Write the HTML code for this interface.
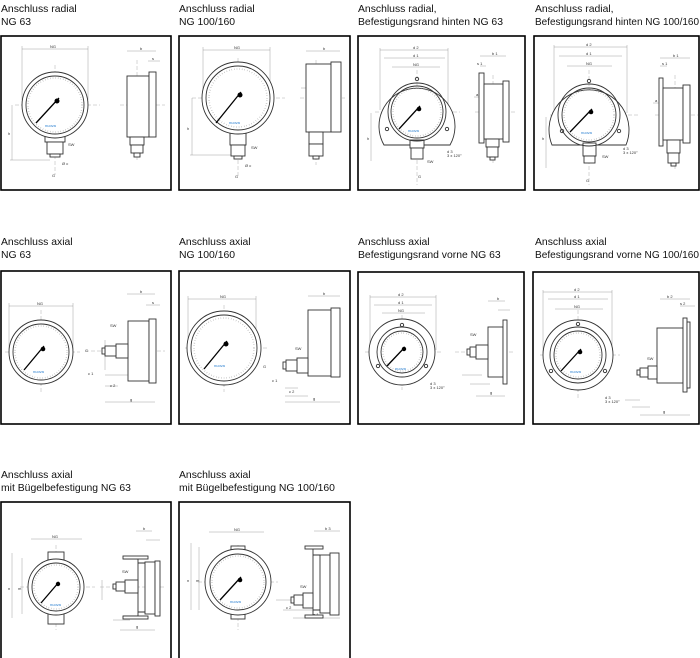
<!DOCTYPE html>
<html><head><meta charset="utf-8"><style>
html,body{margin:0;padding:0;background:#fff;}
svg{display:block;}
.t{font-family:"Liberation Sans",sans-serif;font-size:10.4px;fill:#111;}
.s{font-family:"Liberation Sans",sans-serif;font-size:4px;fill:#333;}
.b{font-family:"Liberation Sans",sans-serif;font-size:4px;fill:#2a7fd0;}
.box{fill:none;stroke:#000;stroke-width:1.6;}
.l{fill:none;stroke:#333;stroke-width:0.9;}
.h{fill:#fff;stroke:#333;stroke-width:0.9;}
.d{fill:none;stroke:#888;stroke-width:0.4;}
.c{fill:none;stroke:#999;stroke-width:0.4;stroke-dasharray:4 2;}
.n{stroke:#000;stroke-width:1.3;}
.tk{fill:none;stroke:#999;stroke-width:1.5;stroke-dasharray:0.4 2.2;}
</style></head><body>
<svg width="700" height="658" viewBox="0 0 700 658" xmlns="http://www.w3.org/2000/svg">
<!-- titles -->
<text class="t" x="1" y="12">Anschluss radial</text><text class="t" x="1" y="25">NG 63</text>
<text class="t" x="179" y="12">Anschluss radial</text><text class="t" x="179" y="25">NG 100/160</text>
<text class="t" x="358" y="12">Anschluss radial,</text><text class="t" x="358" y="25">Befestigungsrand hinten NG 63</text>
<text class="t" x="535" y="12">Anschluss radial,</text><text class="t" x="535" y="25" textLength="164" lengthAdjust="spacingAndGlyphs">Befestigungsrand hinten NG 100/160</text>
<text class="t" x="1" y="245">Anschluss axial</text><text class="t" x="1" y="258">NG 63</text>
<text class="t" x="179" y="245">Anschluss axial</text><text class="t" x="179" y="258">NG 100/160</text>
<text class="t" x="358" y="245">Anschluss axial</text><text class="t" x="358" y="258">Befestigungsrand vorne NG 63</text>
<text class="t" x="535" y="245">Anschluss axial</text><text class="t" x="535" y="258" textLength="164" lengthAdjust="spacingAndGlyphs">Befestigungsrand vorne NG 100/160</text>
<text class="t" x="1" y="478">Anschluss axial</text><text class="t" x="1" y="491">mit Bügelbefestigung NG 63</text>
<text class="t" x="179" y="478">Anschluss axial</text><text class="t" x="179" y="491">mit Bügelbefestigung NG 100/160</text>
<!-- boxes -->
<rect class="box" x="1" y="36" width="170" height="154"/>
<rect class="box" x="179" y="36" width="171" height="154"/>
<rect class="box" x="358" y="36" width="167" height="154"/>
<rect class="box" x="534" y="36" width="165" height="154"/>
<rect class="box" x="1" y="271" width="170" height="153"/>
<rect class="box" x="179" y="271" width="171" height="153"/>
<rect class="box" x="358" y="272" width="166" height="152"/>
<rect class="box" x="533" y="272" width="166" height="152"/>
<rect class="box" x="1" y="502" width="170" height="160"/>
<rect class="box" x="179" y="502" width="171" height="160"/>

<!-- P1 -->
<g>
<line class="c" x1="15" y1="105" x2="100" y2="105"/><line class="c" x1="55" y1="65" x2="55" y2="175"/>
<path class="d" d="M22 49H88M22 46V100M88 46V100M12 105V160M10 160H50"/>
<text class="s" x="50" y="48">NG</text><text class="s" x="8" y="135">h</text><text class="s" x="68" y="146">SW</text><text class="s" x="62" y="165">Ø c</text><text class="s" x="52" y="177">G</text>
<rect class="h" x="45" y="134" width="20" height="8"/><rect class="h" x="47" y="142" width="16" height="12"/><rect class="h" x="50" y="154" width="10" height="3"/>
<circle class="h" cx="55" cy="105" r="33"/><circle class="l" cx="55" cy="105" r="29"/><circle class="tk" cx="55" cy="105" r="27"/>
<line class="n" x1="59" y1="98" x2="36" y2="123"/><circle cx="57" cy="101" r="2.5"/>
<text class="b" x="45" y="127">nuova</text>
<line class="c" x1="120" y1="105" x2="165" y2="105"/><line class="c" x1="137" y1="60" x2="137" y2="160"/>
<path class="d" d="M127 51H156M148 61H160M127 87H137"/><text class="s" x="140" y="50">b</text><text class="s" x="152" y="60">s</text><text class="s" x="130" y="86">a</text>
<rect class="h" x="127" y="76" width="22" height="61"/><rect class="h" x="149" y="72" width="7" height="65"/>
<rect class="h" x="130" y="137" width="14" height="8"/><rect class="h" x="131" y="145" width="12" height="8"/><rect class="h" x="134" y="153" width="6" height="4"/>
</g>
<!-- P2 -->
<g>
<line class="c" x1="192" y1="98" x2="285" y2="98"/><line class="c" x1="238" y1="58" x2="238" y2="178"/>
<path class="d" d="M203 50H270M203 47V95M270 47V95M192 98V155M190 155H232"/>
<text class="s" x="234" y="49">NG</text><text class="s" x="187" y="130">h</text><text class="s" x="251" y="149">SW</text><text class="s" x="245" y="167">Ø c</text><text class="s" x="235" y="178">G</text>
<rect class="h" x="230" y="130" width="16" height="15"/><rect class="h" x="231" y="145" width="14" height="11"/><rect class="h" x="234" y="156" width="8" height="3"/>
<circle class="h" cx="238" cy="98" r="36"/><circle class="l" cx="238" cy="98" r="32"/><circle class="tk" cx="238" cy="98" r="29"/>
<line class="n" x1="241" y1="92" x2="216" y2="123"/><circle cx="240" cy="95" r="2.5"/>
<text class="b" x="229" y="124">nuova</text>
<line class="c" x1="300" y1="98" x2="345" y2="98"/><line class="c" x1="316" y1="60" x2="316" y2="165"/>
<path class="d" d="M306 51H340M301 88H316"/><text class="s" x="323" y="50">b</text><text class="s" x="309" y="87">a</text>
<rect class="h" x="306" y="64" width="25" height="68"/><rect class="h" x="331" y="62" width="10" height="70"/>
<rect class="h" x="309" y="132" width="14" height="12"/><rect class="h" x="309" y="144" width="14" height="12"/><rect class="h" x="313" y="156" width="6" height="3"/>
</g>
<!-- P3 -->
<g>
<line class="c" x1="375" y1="112" x2="460" y2="112"/><line class="c" x1="417" y1="70" x2="417" y2="185"/>
<path class="d" d="M380 50H448M384 58H445M392 67H440M380 48V110M448 48V110M371 113V161"/>
<text class="s" x="413" y="49">d 2</text><text class="s" x="413" y="57">d 1</text><text class="s" x="413" y="66">NG</text><text class="s" x="367" y="140">h</text><text class="s" x="427" y="163">SW</text><text class="s" x="447" y="153">d 3</text><text class="s" x="447" y="157">3 x 120°</text><text class="s" x="418" y="178">G</text>
<path class="h" d="M384 145A38 38 0 1 1 450 145Z"/>
<rect class="h" x="410" y="140" width="14" height="8"/><rect class="h" x="411" y="148" width="12" height="11"/>
<circle class="l" cx="417" cy="112" r="29"/><circle class="l" cx="417" cy="112" r="26"/><circle class="tk" cx="417" cy="112" r="24"/>
<circle class="l" cx="417" cy="79" r="1.7"/><circle class="l" cx="387" cy="129" r="1.7"/><circle class="l" cx="447" cy="129" r="1.7"/>
<line class="n" x1="420" y1="106" x2="399" y2="129"/><circle cx="419" cy="109" r="2.3"/>
<text class="b" x="408" y="132">nuova</text>
<path class="d" d="M480 56H506M480 66H486M474 97H485"/><text class="s" x="492" y="55">b 1</text><text class="s" x="477" y="65">s 1</text><text class="s" x="476" y="96">a 1</text>
<line class="c" x1="475" y1="112" x2="515" y2="112"/><line class="c" x1="493" y1="75" x2="493" y2="165"/>
<rect class="h" x="479" y="73" width="5" height="70"/><rect class="h" x="484" y="84" width="19" height="55"/><rect class="h" x="503" y="81" width="6" height="61"/>
<rect class="h" x="486" y="139" width="13" height="8"/><rect class="h" x="487" y="147" width="11" height="10"/><rect class="h" x="490" y="157" width="5" height="3"/>
</g>
<!-- P4 -->
<g>
<line class="c" x1="550" y1="115" x2="640" y2="115"/><line class="c" x1="589" y1="70" x2="589" y2="185"/>
<path class="d" d="M554 47H627M559 56H622M567 66H612M554 45V113M627 45V113M546 117V168"/>
<text class="s" x="586" y="46">d 2</text><text class="s" x="586" y="55">d 1</text><text class="s" x="586" y="65">NG</text><text class="s" x="542" y="140">h</text><text class="s" x="602" y="158">SW</text><text class="s" x="623" y="150">d 3</text><text class="s" x="623" y="154">3 x 120°</text><text class="s" x="586" y="182">G</text>
<path class="h" d="M552 145A40 40 0 1 1 626 145Z"/>
<rect class="h" x="583" y="143" width="13" height="13"/><rect class="h" x="584" y="156" width="11" height="7"/>
<circle class="l" cx="589" cy="115" r="31"/><circle class="l" cx="589" cy="115" r="27"/><circle class="tk" cx="589" cy="115" r="25"/>
<circle class="l" cx="589" cy="81" r="1.7"/><circle class="l" cx="562" cy="131" r="1.7"/><circle class="l" cx="619" cy="131" r="1.7"/>
<line class="n" x1="592" y1="109" x2="570" y2="132"/><circle cx="591" cy="112" r="2.3"/>
<text class="b" x="581" y="134">nuova</text>
<path class="d" d="M660 58H690M660 66H667M653 103H663"/><text class="s" x="673" y="57">b 1</text><text class="s" x="662" y="65">s 1</text><text class="s" x="655" y="102">a 1</text>
<line class="c" x1="655" y1="115" x2="698" y2="115"/><line class="c" x1="675" y1="75" x2="675" y2="170"/>
<rect class="h" x="659" y="78" width="4" height="68"/><rect class="h" x="663" y="88" width="20" height="52"/><rect class="h" x="683" y="85" width="7" height="58"/>
<rect class="h" x="667" y="140" width="13" height="13"/><rect class="h" x="668" y="153" width="11" height="10"/><rect class="h" x="671" y="163" width="5" height="3"/>
</g>
<!-- P5 -->
<g>
<line class="c" x1="5" y1="352" x2="80" y2="352"/><line class="c" x1="41" y1="310" x2="41" y2="392"/>
<path class="d" d="M9 306H73M9 303V350M73 303V350M105 340V370M105 375H128M105 386H118M105 402H155M127 294H155M146 305H160"/>
<text class="s" x="37" y="305">NG</text><text class="s" x="110" y="327">SW</text><text class="s" x="88" y="375">c 1</text><text class="s" x="110" y="387">c 2</text><text class="s" x="130" y="401">g</text><text class="s" x="140" y="293">b</text><text class="s" x="152" y="304">s</text><text class="s" x="85" y="352">G</text>
<circle class="h" cx="41" cy="352" r="32"/><circle class="l" cx="41" cy="352" r="28"/><circle class="tk" cx="41" cy="352" r="26"/>
<line class="n" x1="44" y1="346" x2="24" y2="370"/><circle cx="43" cy="349" r="2.3"/>
<text class="b" x="33" y="373">nuova</text>
<line class="c" x1="85" y1="351" x2="165" y2="351"/>
<rect class="h" x="128" y="321" width="21" height="60"/><rect class="h" x="149" y="319" width="7" height="64"/>
<rect class="h" x="116" y="344" width="12" height="14"/><rect class="h" x="105" y="346" width="11" height="10"/><rect class="h" x="102" y="348" width="3" height="6"/>
</g>
<!-- P6 -->
<g>
<line class="c" x1="185" y1="348" x2="268" y2="348"/><line class="c" x1="224" y1="305" x2="224" y2="392"/>
<path class="d" d="M188 299H256M188 296V345M256 296V345M285 388H298M285 396H308M285 402H340M308 296H340M313 345V365"/>
<text class="s" x="220" y="298">NG</text><text class="s" x="295" y="350">SW</text><text class="s" x="272" y="382">c 1</text><text class="s" x="289" y="393">c 2</text><text class="s" x="313" y="400">g</text><text class="s" x="323" y="295">b</text><text class="s" x="263" y="368">G</text>
<circle class="h" cx="224" cy="348" r="37"/><circle class="l" cx="224" cy="348" r="33"/><circle class="tk" cx="224" cy="348" r="30"/>
<line class="n" x1="227" y1="341" x2="204" y2="369"/><circle cx="226" cy="344" r="2.5"/>
<text class="b" x="214" y="367">nuova</text>
<rect class="h" x="308" y="310" width="23" height="66"/><rect class="h" x="331" y="308" width="9" height="69"/>
<rect class="h" x="297" y="358" width="11" height="15"/><rect class="h" x="286" y="360" width="11" height="11"/><rect class="h" x="283" y="362" width="3" height="7"/>
</g>
<!-- P7 -->
<g>
<line class="c" x1="365" y1="352" x2="442" y2="352"/><line class="c" x1="402" y1="315" x2="402" y2="390"/>
<path class="d" d="M370 297H436M374 305H432M382 313H425M370 295V350M436 295V350M462 375H482M470 384H490M476 396H505M488 301H505M498 310H510"/>
<text class="s" x="398" y="296">d 2</text><text class="s" x="398" y="304">d 1</text><text class="s" x="398" y="312">NG</text><text class="s" x="470" y="336">SW</text><text class="s" x="430" y="385">d 3</text><text class="s" x="430" y="389">3 x 120°</text><text class="s" x="490" y="394">g</text><text class="s" x="497" y="300">b</text>
<circle class="h" cx="402" cy="352" r="33"/><circle class="l" cx="402" cy="352" r="25"/><circle class="l" cx="402" cy="352" r="21"/><circle class="tk" cx="402" cy="352" r="19"/>
<circle class="l" cx="402" cy="325" r="1.7"/><circle class="l" cx="378" cy="366" r="1.7"/><circle class="l" cx="426" cy="366" r="1.7"/>
<line class="n" x1="405" y1="347" x2="387" y2="366"/><circle cx="404" cy="349" r="2.2"/>
<text class="b" x="395" y="370">nuova</text>
<line class="c" x1="455" y1="352" x2="515" y2="352"/>
<rect class="h" x="488" y="327" width="15" height="50"/><rect class="h" x="503" y="320" width="4" height="64"/>
<rect class="h" x="476" y="345" width="12" height="14"/><rect class="h" x="470" y="347" width="6" height="10"/><rect class="h" x="467" y="349" width="3" height="6"/>
</g>
<!-- P8 -->
<g>
<line class="c" x1="540" y1="355" x2="620" y2="355"/><line class="c" x1="578" y1="310" x2="578" y2="400"/>
<path class="d" d="M543 292H612M548 299H608M555 309H603M543 290V353M612 290V353M625 400H640M632 407H650M640 415H690M660 299H690M680 306H695"/>
<text class="s" x="574" y="291">d 2</text><text class="s" x="574" y="298">d 1</text><text class="s" x="574" y="308">NG</text><text class="s" x="647" y="360">SW</text><text class="s" x="605" y="399">d 3</text><text class="s" x="605" y="403">3 x 120°</text><text class="s" x="663" y="413">g</text><text class="s" x="667" y="298">b 2</text><text class="s" x="680" y="305">s 2</text>
<circle class="h" cx="578" cy="355" r="35"/><circle class="l" cx="578" cy="355" r="28"/><circle class="l" cx="578" cy="355" r="24"/><circle class="tk" cx="578" cy="355" r="22"/>
<circle class="l" cx="578" cy="324" r="1.7"/><circle class="l" cx="551" cy="371" r="1.7"/><circle class="l" cx="605" cy="371" r="1.7"/>
<line class="n" x1="581" y1="349" x2="561" y2="371"/><circle cx="580" cy="352" r="2.3"/>
<text class="b" x="570" y="373">nuova</text>
<rect class="h" x="657" y="328" width="26" height="55"/><rect class="h" x="683" y="318" width="4" height="74"/><rect class="h" x="687" y="322" width="3" height="66"/>
<rect class="h" x="648" y="366" width="9" height="13"/><rect class="h" x="640" y="368" width="8" height="9"/><rect class="h" x="637" y="370" width="3" height="5"/>
</g>
<!-- P9 -->
<g>
<line class="c" x1="20" y1="587" x2="95" y2="587"/><line class="c" x1="56" y1="545" x2="56" y2="630"/>
<path class="d" d="M31 539H82M12 553V618M22 558V614M136 531H152M146 540H160M113 620H130M120 630H155M102 580V600"/>
<text class="s" x="52" y="538">NG</text><text class="s" x="8" y="590">n</text><text class="s" x="18" y="590">m</text><text class="s" x="122" y="573">SW</text><text class="s" x="143" y="530">b</text><text class="s" x="136" y="628">g</text>
<rect class="h" x="48" y="552" width="16" height="11"/><rect class="h" x="48" y="613" width="16" height="11"/>
<circle class="h" cx="56" cy="587" r="28"/><circle class="l" cx="56" cy="587" r="24"/><circle class="tk" cx="56" cy="587" r="22"/>
<line class="n" x1="59" y1="582" x2="41" y2="603"/><circle cx="58" cy="584" r="2.2"/>
<text class="b" x="50" y="606">nuova</text>
<line class="c" x1="100" y1="587" x2="165" y2="587"/>
<path class="l" d="M123 559H138V616H123M138 563H145M138 612H145"/>
<rect class="h" x="145" y="562" width="10" height="52"/><rect class="h" x="155" y="561" width="5" height="55"/>
<rect class="h" x="123" y="556" width="25" height="3"/><rect class="h" x="123" y="616" width="25" height="3"/>
<rect class="h" x="125" y="580" width="13" height="13"/><rect class="h" x="116" y="582" width="9" height="9"/><rect class="h" x="113" y="584" width="3" height="5"/>
</g>
<!-- P10 -->
<g>
<line class="c" x1="198" y1="582" x2="278" y2="582"/><line class="c" x1="238" y1="545" x2="238" y2="630"/>
<path class="d" d="M209 532H264M191 543V610M199 547V610M314 531H340M276 600H292M283 610H313M293 618H340"/>
<text class="s" x="234" y="531">NG</text><text class="s" x="187" y="582">n</text><text class="s" x="196" y="582">m</text><text class="s" x="300" y="588">SW</text><text class="s" x="325" y="530">b 3</text><text class="s" x="313" y="616">g 1</text><text class="s" x="286" y="609">c 2</text>
<rect class="h" x="231" y="546" width="14" height="11"/><rect class="h" x="231" y="608" width="14" height="11"/>
<circle class="h" cx="238" cy="582" r="33"/><circle class="l" cx="238" cy="582" r="28"/><circle class="tk" cx="238" cy="582" r="26"/>
<line class="n" x1="241" y1="577" x2="220" y2="600"/><circle cx="240" cy="580" r="2.3"/>
<text class="b" x="230" y="603">nuova</text>
<path class="l" d="M305 548H313V617H305M313 555H320M313 610H320"/>
<rect class="h" x="305" y="546" width="18" height="3"/><rect class="h" x="305" y="615" width="18" height="3"/>
<rect class="h" x="320" y="555" width="10" height="58"/><rect class="h" x="330" y="553" width="9" height="62"/>
<rect class="h" x="303" y="593" width="10" height="15"/><rect class="h" x="294" y="595" width="9" height="10"/><rect class="h" x="291" y="597" width="3" height="6"/>
</g>
</svg>
</body></html>
